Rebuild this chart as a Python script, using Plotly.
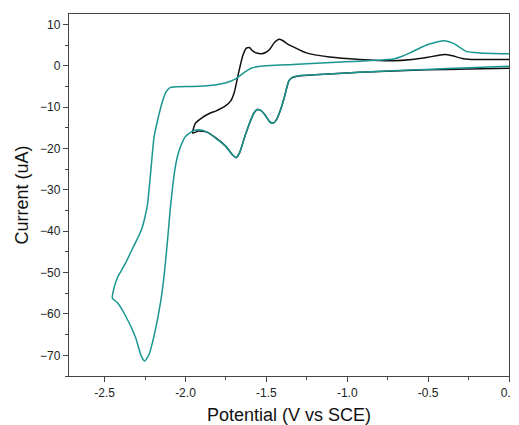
import plotly.graph_objects as go

# Black CV (scan 0 -> -1.956 -> 0)
black_x = [0.0, -0.25, -0.51, -0.923, -1.2, -1.30, -1.336, -1.36, -1.375, -1.39, -1.42, -1.44, -1.46,
           -1.48, -1.51, -1.535, -1.553, -1.575, -1.60, -1.636, -1.665, -1.687, -1.71, -1.75, -1.81,
           -1.87, -1.92, -1.956,
           -1.94, -1.894, -1.85, -1.81, -1.749, -1.72, -1.698, -1.671, -1.646, -1.625, -1.605, -1.585,
           -1.555, -1.53, -1.505, -1.48, -1.45, -1.42, -1.40, -1.37, -1.336, -1.253, -1.109, -0.923,
           -0.717, -0.6, -0.51, -0.45, -0.395, -0.35, -0.283, -0.2, 0.0]
black_y = [-0.6, -0.8, -1.0, -1.6, -2.2, -2.5, -2.8, -3.6, -5.5, -7.8, -11.5, -13.2, -13.9,
           -13.5, -11.8, -10.8, -10.6, -11.3, -13.5, -17.5, -21.0, -22.2, -21.5, -19.5, -17.5,
           -16.0, -15.8, -16.3,
           -14.0, -12.5, -11.5, -10.9, -9.6, -8.5, -6.4, -1.6, 2.4, 4.2, 4.4, 3.6,
           3.0, 2.9, 3.2, 3.9, 5.6, 6.4, 6.1, 5.3, 4.6, 3.1, 2.1, 1.5,
           1.2, 1.5, 2.0, 2.4, 2.7, 2.4, 1.7, 1.5, 1.5]

# Teal CV (scan 0 -> -2.452 -> 0)
teal_x = [0.0, -0.25, -0.51, -0.717, -0.923, -1.2, -1.30, -1.336, -1.36, -1.375, -1.39, -1.42, -1.44,
          -1.46, -1.48, -1.51, -1.535, -1.553, -1.575, -1.60, -1.636, -1.665, -1.687, -1.71, -1.75,
          -1.81, -1.87, -1.92, -1.956, -2.0, -2.03, -2.05, -2.065, -2.08, -2.095, -2.11, -2.13,
          -2.152, -2.19, -2.225, -2.252, -2.275, -2.31, -2.37, -2.42, -2.452,
          -2.44, -2.42, -2.369, -2.32, -2.297, -2.27, -2.25, -2.235, -2.214, -2.195, -2.173, -2.142,
          -2.12, -2.095, -2.059, -1.95, -1.852, -1.749, -1.687, -1.636, -1.594, -1.55, -1.336, -1.1,
          -0.923, -0.78, -0.717, -0.66, -0.613, -0.51, -0.417, -0.37, -0.335, -0.262, -0.18, 0.0]
teal_y = [-0.1, -0.5, -0.9, -1.2, -1.6, -2.2, -2.4, -2.7, -3.6, -5.5, -7.8, -11.5, -13.2,
          -13.9, -13.5, -11.8, -10.8, -10.6, -11.3, -13.5, -17.5, -21.0, -22.2, -21.5, -19.5,
          -17.6, -16.0, -15.5, -15.8, -17.1, -19.5, -22.0, -25.0, -29.5, -35.0, -41.8, -50.0,
          -56.7, -64.5, -69.8, -71.4, -70.0, -65.5, -60.5, -57.3, -56.2,
          -53.5, -51.2, -47.6, -43.6, -41.8, -39.4, -36.5, -33.6, -25.3, -17.5, -13.3, -8.6,
          -6.3, -5.3, -5.1, -5.0, -4.8, -4.1, -3.1, -1.6, -0.6, -0.2, 0.3, 0.8,
          1.1, 1.4, 1.6, 2.3, 3.1, 5.0, 6.0, 5.8, 5.2, 3.4, 3.1, 2.9]

x_ticks = [-2.5, -2.0, -1.5, -1.0, -0.5, 0.0]
x_labels = ["-2.5", "-2.0", "-1.5", "-1.0", "-0.5", "0.0"]
y_ticks = [-70, -60, -50, -40, -30, -20, -10, 0, 10]

fig = go.Figure()
fig.add_trace(go.Scatter(x=black_x, y=black_y, mode="lines",
                         line=dict(color="#111111", width=1.5, shape="spline", smoothing=0.5),
                         showlegend=False, hoverinfo="skip"))
fig.add_trace(go.Scatter(x=teal_x, y=teal_y, mode="lines",
                         line=dict(color="#1a9690", width=1.5, shape="spline", smoothing=0.5),
                         showlegend=False, hoverinfo="skip"))

axis_common = dict(showgrid=False, zeroline=False, showline=True, linecolor="#444444",
                   linewidth=1.3, mirror=True, ticks="outside", ticklen=5, tickwidth=1.2,
                   tickcolor="#444444", automargin=False, ticklabeloverflow="allow",
                   tickfont=dict(family="Liberation Sans, Arial", size=12, color="#222222"))

fig.update_xaxes(range=[-2.72, 0.0], tickvals=x_ticks, ticktext=x_labels,
                 minor=dict(dtick=0.25, ticks="outside", ticklen=3, tickcolor="#444444", tickwidth=1.2),
                 title=dict(text="Potential (V vs SCE)", font=dict(family="Liberation Sans, Arial", size=18, color="#111111"),
                            standoff=16),
                 **axis_common)
fig.update_yaxes(range=[-75, 12.5], tickvals=y_ticks,
                 minor=dict(dtick=5, ticks="outside", ticklen=3, tickcolor="#444444", tickwidth=1.2),
                 title=dict(text="Current (uA)", font=dict(family="Liberation Sans, Arial", size=18, color="#111111"),
                            standoff=6),
                 **axis_common)

# page body adds an 8px offset; compensate so the plot box lands at the reference position
fig.update_layout(width=511, height=417, margin=dict(l=61, r=10, t=6, b=49),
                  plot_bgcolor="white", paper_bgcolor="white")

fig.write_html("out.html")
